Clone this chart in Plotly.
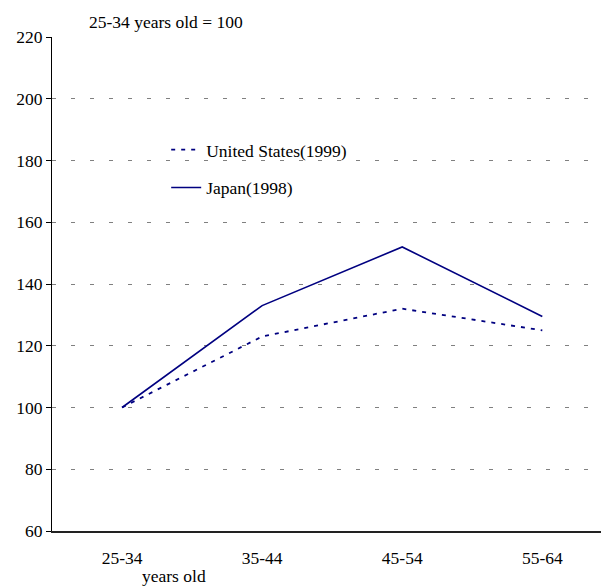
import plotly.graph_objects as go

categories = ["25-34", "35-44", "45-54", "55-64"]
us_1999 = [100, 123, 132, 125]
japan_1998 = [100, 133, 152, 129.5]
y_ticks = [60, 80, 100, 120, 140, 160, 180, 200, 220]

FONT = "Liberation Serif, Times New Roman, serif"
FS = 17.5
NAVY = "#000080"
xpos = list(range(len(categories)))
xr = [-0.5, 3.476]

fig = go.Figure()
fig.add_trace(go.Scatter(x=xpos, y=us_1999, mode="lines", name="United States(1999)",
                         legendgroup="us",
                         line=dict(color=NAVY, width=1.8, dash="4px,6px")))
fig.add_trace(go.Scatter(x=xpos, y=japan_1998, mode="lines", name="Japan(1998)",
                         legendgroup="jp",
                         line=dict(color=NAVY, width=1.6)))

fig.update_layout(
    width=601, height=579,
    margin=dict(l=44, r=0, t=29, b=56),
    paper_bgcolor="white", plot_bgcolor="white",
    font=dict(family=FONT, size=FS, color="black"),
    showlegend=True,
    legend=dict(x=0.205, y=0.808, xanchor="left", yanchor="top",
                bgcolor="rgba(0,0,0,0)", tracegroupgap=12,
                font=dict(family=FONT, size=FS)),
    xaxis=dict(range=xr, tickvals=xpos, ticktext=categories, ticks="",
               ticklabelstandoff=10,
               showgrid=False, zeroline=False, showline=True,
               linecolor="#222222", linewidth=2,
               tickfont=dict(family=FONT, size=FS)),
    xaxis2=dict(overlaying="x", anchor="y", side="bottom", range=xr,
                tickvals=[-0.5, 0.5, 1.5, 2.5], ticks="outside", ticklen=6,
                tickcolor="black", showticklabels=False, showgrid=False,
                zeroline=False, showline=False),
    xaxis3=dict(overlaying="x", anchor="y", side="bottom", range=xr,
                tickvals=[-0.5, 0.5, 1.5, 2.5], ticks="inside", ticklen=5,
                tickcolor="black", showticklabels=False, showgrid=False,
                zeroline=False, showline=False),
    xaxis4=dict(overlaying="x", anchor="y", side="top", range=xr,
                showticklabels=False, ticks="", showgrid=False,
                zeroline=False, showline=True, linecolor="#8a8a8a", linewidth=2),
    yaxis=dict(range=[60, 220], tickvals=y_ticks, ticks="outside", ticklen=5,
               tickcolor="black", showline=True, linecolor="black", linewidth=1,
               showgrid=True, gridcolor="#808080", gridwidth=1, griddash="4px,15px",
               zeroline=False, tickfont=dict(family=FONT, size=FS)),
    annotations=[
        dict(text="years old", xref="paper", yref="paper",
             x=0.2185, y=-0.092, xanchor="center", yanchor="middle",
             showarrow=False, font=dict(family=FONT, size=FS)),
        dict(text="25-34 years old = 100", xref="paper", yref="paper",
             x=0.062, y=1.0304, xanchor="left", yanchor="middle",
             showarrow=False, font=dict(family=FONT, size=FS)),
    ],
)

fig.write_html("out.html")
